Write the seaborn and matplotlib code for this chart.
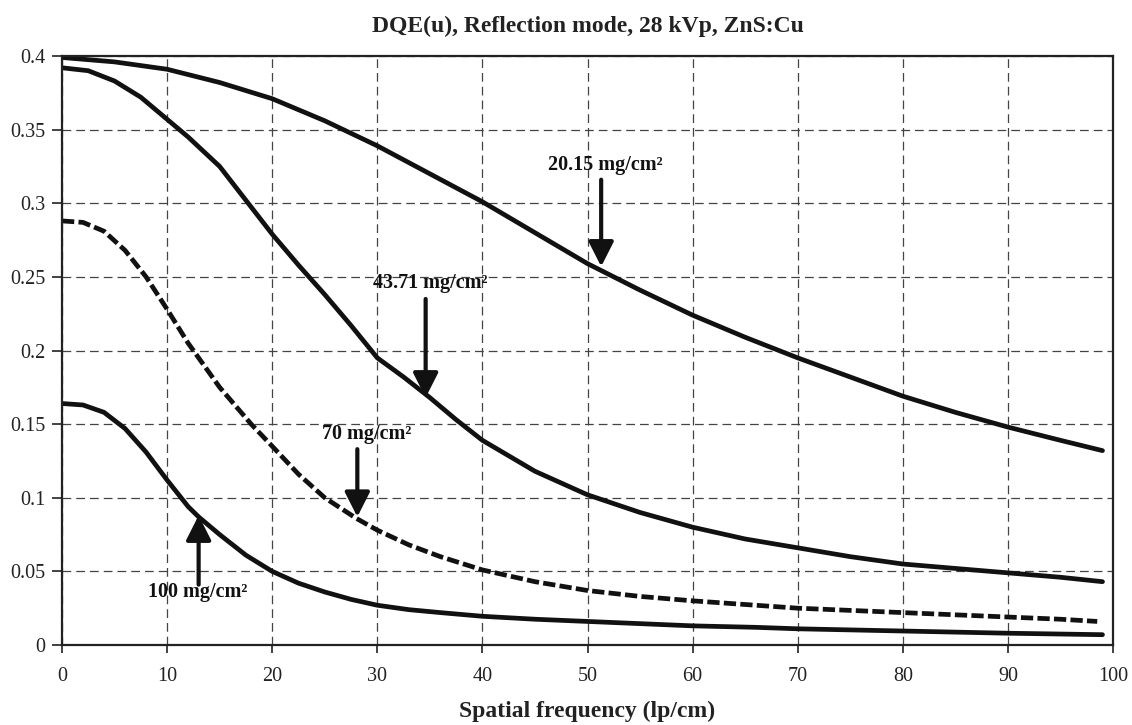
import matplotlib
matplotlib.use("Agg")
import matplotlib.pyplot as plt
import seaborn as sns
import pandas as pd

# DQE(u) curves for ZnS:Cu screens of four coating thicknesses (reflection mode, 28 kVp)
freq_2015 = [0, 5, 10, 15, 20, 25, 30, 35, 40, 45, 50, 55, 60, 65, 70, 75, 80, 85, 90, 95, 99]
dqe_2015 = [0.399, 0.396, 0.391, 0.382, 0.371, 0.356, 0.339, 0.320, 0.301, 0.280, 0.259,
            0.241, 0.224, 0.209, 0.195, 0.182, 0.169, 0.158, 0.148, 0.139, 0.132]

freq_4371 = [0, 2.5, 5, 7.5, 10, 12, 15, 17.5, 20, 22.5, 25, 27.5, 30, 32.5, 35, 37.5, 40,
             45, 50, 55, 60, 65, 70, 75, 80, 85, 90, 95, 99]
dqe_4371 = [0.392, 0.390, 0.383, 0.372, 0.357, 0.345, 0.325, 0.302, 0.279, 0.258, 0.238,
            0.217, 0.195, 0.182, 0.168, 0.153, 0.139, 0.118, 0.102, 0.090, 0.080, 0.072,
            0.066, 0.060, 0.055, 0.052, 0.049, 0.046, 0.043]

freq_70 = [0, 2, 4, 6, 8, 10, 12, 15, 18, 20, 22.5, 25, 28, 30, 33, 36, 40, 45, 50, 55, 60,
           66, 70, 75, 80, 85, 90, 95, 98.5]
dqe_70 = [0.288, 0.287, 0.281, 0.268, 0.250, 0.228, 0.205, 0.175, 0.150, 0.135, 0.116,
          0.100, 0.086, 0.078, 0.068, 0.060, 0.051, 0.043, 0.037, 0.033, 0.030, 0.027,
          0.025, 0.0235, 0.022, 0.0205, 0.019, 0.0175, 0.016]

freq_100 = [0, 2, 4, 6, 8, 10, 12, 13, 15, 17.5, 20, 22.5, 25, 27.5, 30, 33, 36, 40, 45,
            50, 55, 60, 66, 70, 80, 90, 99]
dqe_100 = [0.164, 0.163, 0.158, 0.147, 0.131, 0.112, 0.094, 0.087, 0.075, 0.061, 0.050,
           0.042, 0.036, 0.031, 0.027, 0.024, 0.022, 0.0195, 0.0175, 0.016, 0.0145, 0.013,
           0.012, 0.011, 0.0095, 0.008, 0.007]

x_ticks = [0, 10, 20, 30, 40, 50, 60, 70, 80, 90, 100]
y_ticks = [0, 0.05, 0.1, 0.15, 0.2, 0.25, 0.3, 0.35, 0.4]
y_tick_labels = ["0", "0.05", "0.1", "0.15", "0.2", "0.25", "0.3", "0.35", "0.4"]

labels = ["20.15 mg/cm²", "43.71 mg/cm²", "70 mg/cm²", "100 mg/cm²"]
# (text x, text y, arrow tail x, tail y, arrow tip x, tip y)
notes = [
    (51.7, 0.326, 51.3, 0.316, 51.3, 0.257),
    (35.0, 0.246, 34.6, 0.235, 34.6, 0.168),
    (29.0, 0.143, 28.1, 0.133, 28.1, 0.087),
    (12.9, 0.036, 13.0, 0.041, 13.0, 0.088),
]

sns.set_theme(style="white")
plt.rcParams["font.family"] = ["Liberation Serif", "DejaVu Serif"]

frames = []
for lab, fx, fy in zip(labels, [freq_2015, freq_4371, freq_70, freq_100],
                       [dqe_2015, dqe_4371, dqe_70, dqe_100]):
    frames.append(pd.DataFrame({"freq": fx, "dqe": fy, "screen": lab}))
df = pd.concat(frames, ignore_index=True)

fig = plt.figure(figsize=(11.32, 7.25), dpi=100)
ax = fig.add_axes([62 / 1132, 1 - 645 / 725, (1113 - 62) / 1132, (645 - 56) / 725])

sns.lineplot(data=df, x="freq", y="dqe", hue="screen", style="screen",
             palette=["#111111"] * 4,
             dashes={labels[0]: "", labels[1]: "", labels[2]: (2.6, 0.9), labels[3]: ""},
             linewidth=3.4, legend=False, ax=ax, sort=False)
for ln in ax.get_lines():
    ln.set_solid_capstyle("round")
    ln.set_solid_joinstyle("round")
    ln.set_dash_capstyle("butt")

ax.set_xlim(0, 100)
ax.set_ylim(0, 0.4)
ax.set_xticks(x_ticks)
ax.set_xticklabels([str(t) for t in x_ticks])
ax.set_yticks(y_ticks)
ax.set_yticklabels(y_tick_labels)
ax.grid(True, color="#444444", linestyle=(0, (7, 4)), linewidth=0.9)
ax.tick_params(axis="both", which="major", direction="out", length=6, width=1.2,
               labelsize=14.5, colors="#222222", pad=10, left=True, bottom=True)
ax.tick_params(axis="y", pad=5, length=7)
for side in ["left", "right", "top", "bottom"]:
    ax.spines[side].set_visible(True)
    ax.spines[side].set_color("#222222")
    ax.spines[side].set_linewidth(1.6)
ax.set_xlabel("")
ax.set_ylabel("")

for lab, (tx, ty, ax0, ay0, ax1, ay1) in zip(labels, notes):
    ax.text(tx, ty, lab, ha="center", va="center", fontsize=14.5, fontweight="bold",
            color="#111111")
    ax.annotate("", xy=(ax1, ay1), xytext=(ax0, ay0),
                arrowprops=dict(arrowstyle="-|>,head_length=0.75,head_width=0.38",
                                mutation_scale=20, lw=3.0, color="#111111",
                                shrinkA=0, shrinkB=0))

cx = (62 + 1113) / 2 / 1132
fig.text(cx, 1 - 26 / 725, "DQE(u), Reflection mode, 28 kVp, ZnS:Cu",
         ha="center", va="center", fontsize=17, fontweight="bold", color="#222222")
fig.text(cx, 1 - 711 / 725, "Spatial frequency (lp/cm)",
         ha="center", va="center", fontsize=17, fontweight="bold", color="#222222")

fig.savefig("out.png", dpi=100, facecolor="white")
